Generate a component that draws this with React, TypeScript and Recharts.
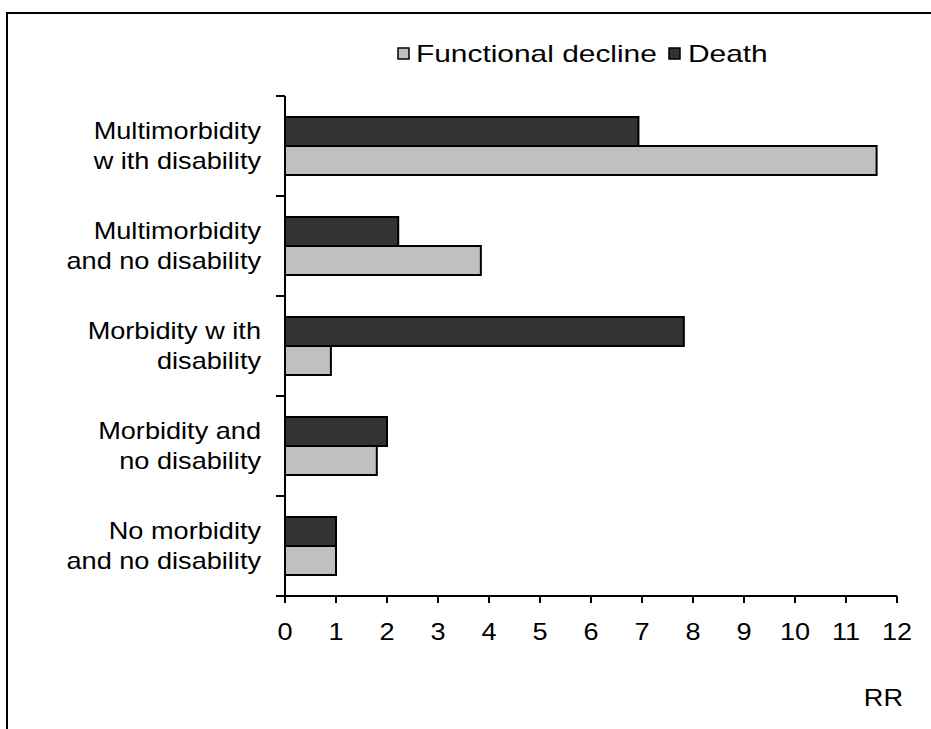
import React from 'react';
import { BarChart, Bar, XAxis, YAxis, Legend } from 'recharts';

const categories = [
  'Multimorbidity\nw ith disability',
  'Multimorbidity\nand no disability',
  'Morbidity w ith\ndisability',
  'Morbidity and\nno disability',
  'No morbidity\nand no disability',
];
const functionalDecline = [11.6, 3.84, 0.9, 1.8, 1.0];
const death = [6.93, 2.22, 7.82, 2.0, 1.0];
const xTicks = [0, 1, 2, 3, 4, 5, 6, 7, 8, 9, 10, 11, 12];
const seriesNames = ['Functional decline', 'Death'];
const seriesColors = ['#C0C0C0', '#333333'];
const axisTitle = 'RR';

const data = categories.map((c, i) => ({
  category: c,
  fd: functionalDecline[i],
  death: death[i],
}));

const FONT = '"Liberation Sans", Arial, sans-serif';
const FS = 23;
const SX = 1.18;
const LFS = 23;
const LSX = 1.3;

const XTick = (props: any) => {
  const { x, y, payload } = props;
  return (
    <g transform={`translate(${x},${y}) scale(${SX},1)`}>
      <text x={0} y={0} dy="0.71em" textAnchor="middle" fontSize={FS} fontFamily={FONT} fill="#000">
        {payload.value}
      </text>
    </g>
  );
};

const CatTick = (props: any) => {
  const { x, y, payload, index } = props;
  const half = typeof payload.offset === 'number' && payload.offset > 0 ? payload.offset : 50;
  const lines = String(payload.value).split('\n');
  const isLast = index === categories.length - 1;
  return (
    <g>
      <line x1={x - 9} x2={x} y1={y - half} y2={y - half} stroke="#000" strokeWidth={2} />
      {isLast && <line x1={x - 9} x2={x} y1={y + half} y2={y + half} stroke="#000" strokeWidth={2} />}
      <g transform={`translate(${x - 24},${y}) scale(${SX},1)`}>
        <text x={0} y={0} textAnchor="end" fontSize={FS} fontFamily={FONT} fill="#000">
          <tspan x={0} dy={-7}>{lines[0]}</tspan>
          <tspan x={0} dy={30}>{lines[1]}</tspan>
        </text>
      </g>
    </g>
  );
};

const RRLabel = (props: any) => {
  const vb = props.viewBox || { x: 0, y: 0, width: 0 };
  return (
    <g transform={`translate(${vb.x + vb.width + 6},${vb.y + 110}) scale(${SX},1)`}>
      <text x={0} y={0} textAnchor="end" fontSize={FS} fontFamily={FONT} fill="#000">
        {axisTitle}
      </text>
    </g>
  );
};

const LegendContent = () => (
  <svg width={931} height={32} style={{ display: 'block' }}>
    <rect x={398} y={10} width={11} height={11} fill={seriesColors[0]} stroke="#000" strokeWidth={1.5} />
    <g transform={`translate(416,24) scale(${LSX},1)`}>
      <text x={0} y={0} fontSize={LFS} fontFamily={FONT} fill="#000">{seriesNames[0]}</text>
    </g>
    <rect x={669} y={10} width={11} height={11} fill={seriesColors[1]} stroke="#000" strokeWidth={1.5} />
    <g transform={`translate(688,24) scale(${LSX},1)`}>
      <text x={0} y={0} fontSize={LFS} fontFamily={FONT} fill="#000">{seriesNames[1]}</text>
    </g>
  </svg>
);

export default function App() {
  return (
    <div style={{ position: 'absolute', left: 0, top: 0, width: 931, height: 729, background: '#fff', overflow: 'hidden' }}>
      <div
        style={{
          position: 'absolute',
          left: 6,
          top: 12,
          width: 940,
          height: 740,
          borderLeft: '2px solid #000',
          borderTop: '2px solid #000',
          boxSizing: 'border-box',
        }}
      />
      <div style={{ position: 'absolute', left: 0, top: 0 }}>
        <BarChart
          width={931}
          height={729}
          layout="vertical"
          data={data}
          margin={{ top: 96, right: 34, bottom: 0, left: 0 }}
          barCategoryGap="21%"
          barGap={0}
        >
          <XAxis
            type="number"
            domain={[0, 12]}
            ticks={xTicks}
            interval={0}
            allowDataOverflow
            height={133}
            tickSize={7}
            tickMargin={21}
            tickLine={{ stroke: '#000', strokeWidth: 2 }}
            axisLine={{ stroke: '#000', strokeWidth: 2 }}
            tick={<XTick />}
            label={<RRLabel />}
          />
          <YAxis
            type="category"
            dataKey="category"
            width={285}
            interval={0}
            axisLine={{ stroke: '#000', strokeWidth: 2 }}
            tickLine={false}
            tickSize={0}
            tickMargin={0}
            tick={<CatTick />}
          />
          <Legend
            verticalAlign="middle"
            align="center"
            layout="horizontal"
            wrapperStyle={{ top: 38, left: 0, width: 931, height: 32 }}
            content={<LegendContent />}
          />
          <Bar dataKey="death" name={seriesNames[1]} fill={seriesColors[1]} stroke="#000" strokeWidth={2} isAnimationActive={false} />
          <Bar dataKey="fd" name={seriesNames[0]} fill={seriesColors[0]} stroke="#000" strokeWidth={2} isAnimationActive={false} />
        </BarChart>
      </div>
    </div>
  );
}
